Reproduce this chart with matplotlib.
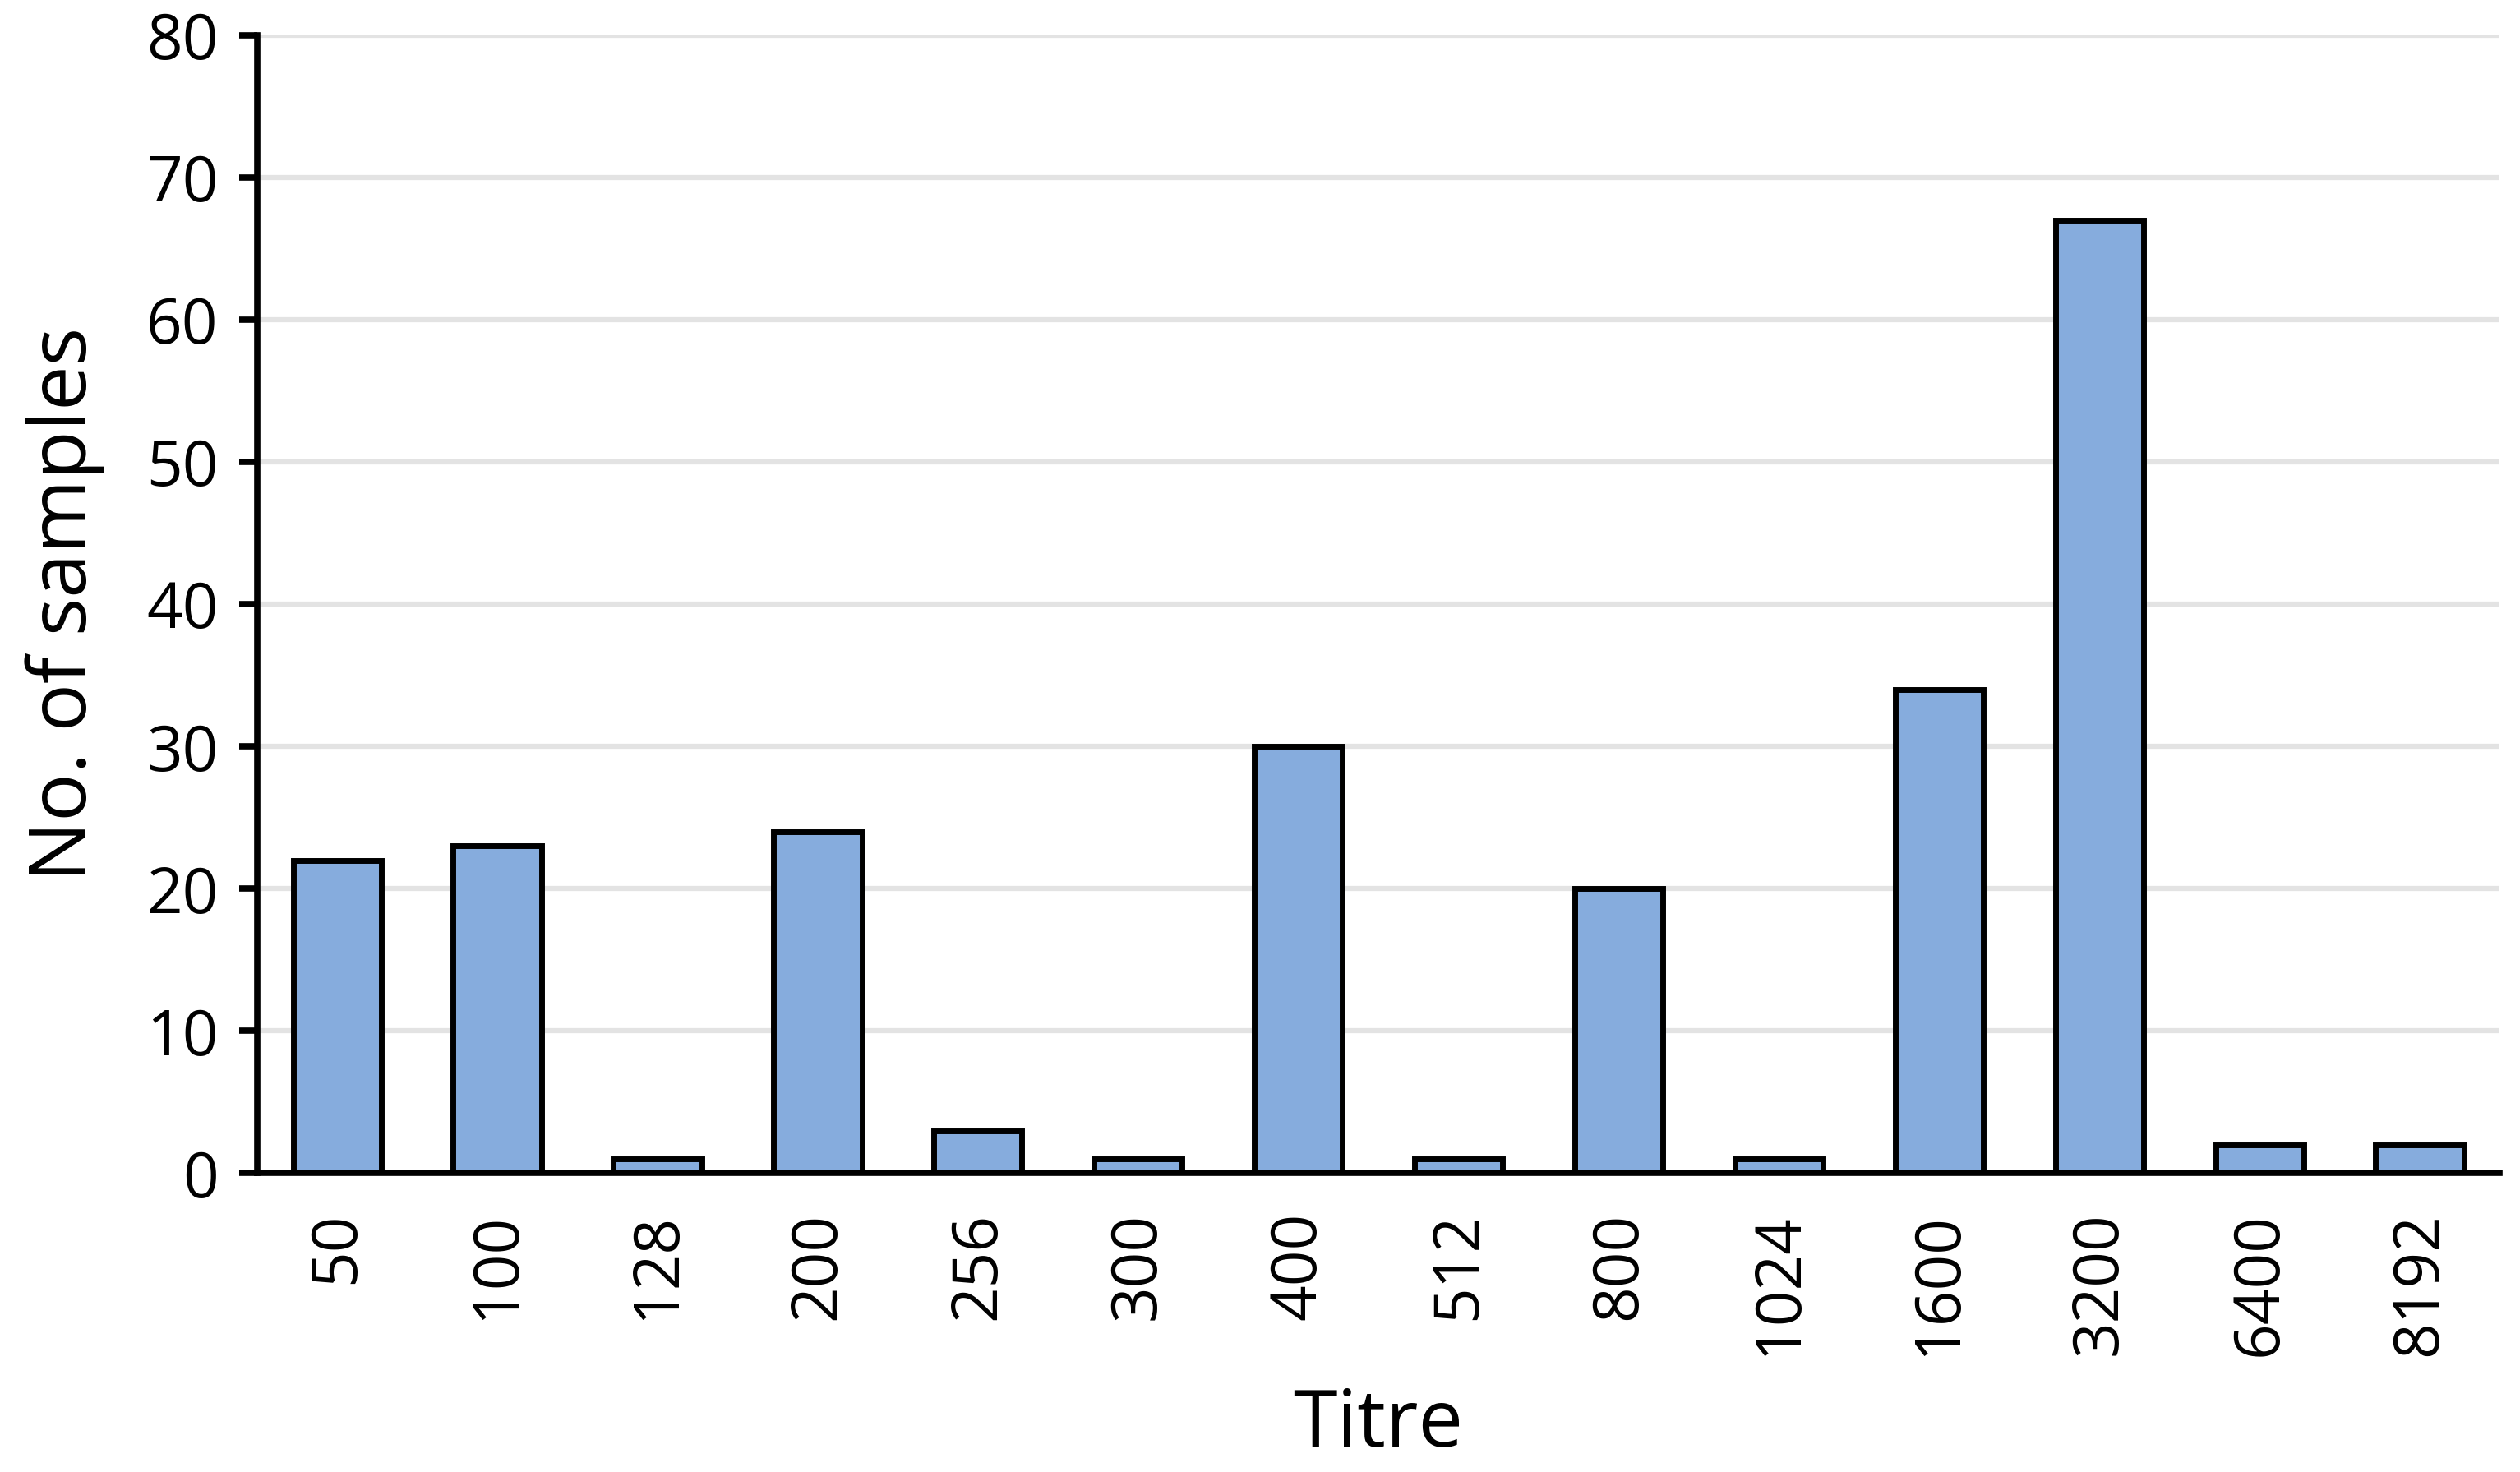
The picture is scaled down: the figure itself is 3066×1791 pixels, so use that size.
import matplotlib
matplotlib.use("Agg")
import matplotlib.pyplot as plt
import numpy as np

categories = ["50", "100", "128", "200", "256", "300", "400", "512", "800", "1024", "1600", "3200", "6400", "8192"]
values = [22, 23, 1, 24, 3, 1, 30, 1, 20, 1, 34, 67, 2, 2]
yticks = [0, 10, 20, 30, 40, 50, 60, 70, 80]

plt.rcParams['font.family'] = ['Open Sans', 'DejaVu Sans']

fig = plt.figure(figsize=(30.66, 17.91), dpi=100)
ax = fig.add_axes([0.102, 0.203, 0.89, 0.773])

x = np.arange(len(categories))
ax.bar(x, values, width=0.55, color='#86ACDD', edgecolor='black', linewidth=5, zorder=3)

ax.set_xlim(-0.5, len(categories) - 0.5)
ax.set_ylim(0, 80)
ax.set_yticks(yticks)
ax.set_xticks(x)
ax.set_xticklabels(categories, rotation=90, fontsize=55)
ax.tick_params(axis='y', labelsize=55, length=16, width=5.5, pad=18)
ax.tick_params(axis='x', length=0, pad=34)
ax.yaxis.grid(True, color='#e3e3e3', linewidth=4.5, zorder=0)
ax.set_axisbelow(True)

for s in ['top', 'right']:
    ax.spines[s].set_visible(False)
for s in ['left', 'bottom']:
    ax.spines[s].set_linewidth(5.5)
    ax.spines[s].set_zorder(4)

ax.set_xlabel("Titre", fontsize=70, labelpad=26)
ax.set_ylabel("No. of samples", fontsize=70, labelpad=36)

fig.savefig("out.png", dpi=100)
